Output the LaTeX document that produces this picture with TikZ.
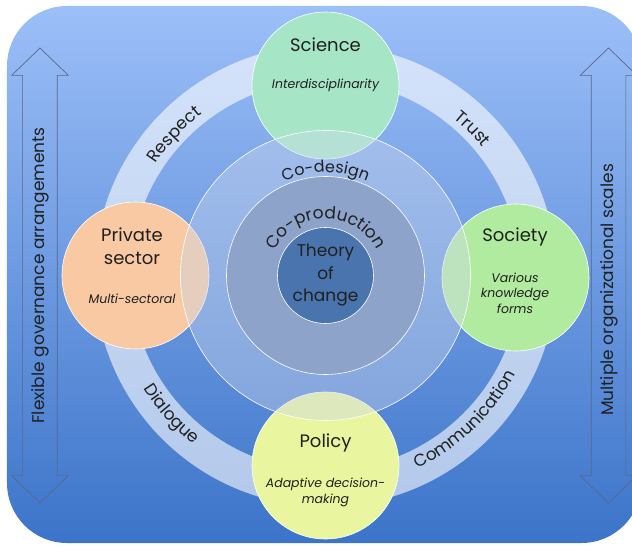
\documentclass[tikz,border=0pt]{standalone}
\usepackage{fontspec}
\setmainfont{Poppins}
\usetikzlibrary{shapes.arrows,decorations.text}

\definecolor{bgtop}{RGB}{156,191,248}
\definecolor{bgbottom}{RGB}{60,116,201}
\definecolor{arrowline}{RGB}{88,104,134}
\definecolor{sciencefill}{RGB}{166,230,198}
\definecolor{privatefill}{RGB}{248,201,162}
\definecolor{societyfill}{RGB}{177,235,159}
\definecolor{policyfill}{RGB}{233,245,159}
\definecolor{codesignfill}{RGB}{205,215,235}
\definecolor{coprodfill}{RGB}{141,163,202}
\definecolor{theoryfill}{RGB}{74,116,173}
\definecolor{labeltext}{RGB}{32,32,32}

\newcommand\ringfont{\fontsize{17}{20}\selectfont}
\newcommand\corefont{\fontsize{16}{20}\selectfont}

\begin{document}
\begin{tikzpicture}
    [ x=1pt, y=1pt
    , sector/.style={circle, draw=white, line width=0.6pt, minimum size=147pt, inner sep=0pt}
    , disk/.style={circle, draw=white, line width=0.6pt, inner sep=0pt}
    , title/.style={font=\fontsize{18}{23}\selectfont, text=labeltext, align=center}
    , note/.style={font=\fontsize{12.5}{15.5}\selectfont\itshape, text=labeltext, align=center}
    , sidearrow/.style={double arrow, draw=arrowline, line width=0.7pt, rotate=90
        , minimum height=455pt, double arrow head extend=11pt, double arrow tip angle=92
        , inner ysep=8.5pt, text height=13pt, text depth=4pt, text=labeltext
        , font=\fontsize{17}{20}\selectfont}
    , ringlabel/.style={decorate, decoration={text along path, text align=center, text color=labeltext}}
    ]
\useasboundingbox (-325.5,-270.5) rectangle (306.5,275.5);
\fill[white] (-325.5,-270.5) rectangle (306.5,275.5);
\shade[top color=bgtop, bottom color=bgbottom, rounded corners=60pt]
  (-318.5,-267.5) rectangle (316,269.5);

% side arrows
\node[sidearrow] (governance) at (-285.5,0) {Flexible governance arrangements};
\node[sidearrow] (scales) at (283,0) {Multiple organizational scales\hspace*{29pt}};

% ring and the four sectors
\node[circle, draw=white, draw opacity=0.6, line width=36pt, minimum size=426pt] (ring) at (0,0) {};
\node[sector, fill=sciencefill] (science) at (0,190) {};
\node[sector, fill=privatefill] (private) at (-190,0) {};
\node[sector, fill=societyfill] (society) at (190,-2) {};
\node[sector, fill=policyfill] (policy) at (0,-190) {};

% core
\node[disk, fill=codesignfill, fill opacity=0.4, minimum size=290pt] (codesign) at (0,0) {};
\node[disk, fill=coprodfill, minimum size=198pt] (coproduction) at (0,0) {};
\node[disk, fill=theoryfill, minimum size=96pt, title, font=\fontsize{17}{22.5}\selectfont] (theory) at (0,0) {Theory\\of\\change};

% labels
\node[title] (science title) at (0,230.5) {Science};
\node[note] (science note) at (0,190.5) {Interdisciplinarity};
\node[title] (private title) at (-193.5,29) {Private\\sector};
\node[note] (private note) at (-193.5,-23.5) {Multi-sectoral};
\node[title] (society title) at (189.5,38.5) {Society};
\node[note] (society note) at (189.5,-17.5) {Various\\knowledge\\forms};
\node[title] (policy title) at (0,-167.5) {Policy};
\node[note] (policy note) at (0,-217) {Adaptive decision-\\making};

\path[ringlabel, decoration={text={|\ringfont|Respect}}] (167:203) arc[start angle=167, end angle=107, radius=203pt];
\path[ringlabel, decoration={text={|\ringfont|Trust}}] (75:203) arc[start angle=75, end angle=15, radius=203pt];
\path[ringlabel, decoration={text={|\ringfont|Dialogue}}] (182:214) arc[start angle=182, end angle=262, radius=214pt];
\path[ringlabel, decoration={text={|\ringfont|Communication}}] (272:214) arc[start angle=272, end angle=356, radius=214pt];
\path[ringlabel, decoration={text={|\corefont|Co-design}}] (150:103) arc[start angle=150, end angle=30, radius=103pt];
\path[ringlabel, decoration={text={|\ringfont|Co-production}}] (175:57) arc[start angle=175, end angle=5, radius=57pt];
\end{tikzpicture}
\end{document}
